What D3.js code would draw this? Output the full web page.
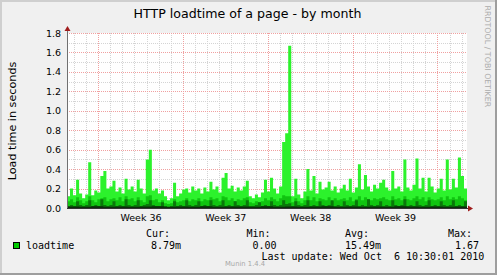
<!DOCTYPE html>
<html>
<head>
<meta charset="utf-8">
<script src="https://cdn.jsdelivr.net/npm/d3@7/dist/d3.min.js"></script>
<style>
    body { margin: 0; background: #f0f0f0; }
    svg text { font-family: "DejaVu Sans", sans-serif; }
    svg text.mono { font-family: "DejaVu Sans Mono", monospace; white-space: pre; }
</style>
</head>
<body>
<div id="chart"></div>
<script>
// 6-hourly samples, Sep 3 10:30 -> Oct 6 10:30 2010 (33 days)
var loadMax = [
    0.12,0.20,0.13,0.29,0.15,0.10,0.14,0.47,0.13,0.18,0.16,0.33,0.38,0.20,0.22,0.28,
    0.17,0.21,0.15,0.30,0.19,0.22,0.17,0.29,0.20,0.15,0.50,0.60,0.18,0.20,0.15,0.18,
    0.12,0.08,0.10,0.26,0.12,0.15,0.19,0.20,0.16,0.22,0.18,0.20,0.15,0.21,0.17,0.27,
    0.19,0.22,0.16,0.31,0.36,0.20,0.23,0.17,0.21,0.18,0.22,0.28,0.12,0.10,0.14,0.11,
    0.16,0.29,0.17,0.31,0.20,0.15,0.22,0.68,0.77,1.67,0.12,0.30,0.14,0.10,0.17,0.40,
    0.18,0.33,0.15,0.27,0.19,0.21,0.27,0.18,0.22,0.16,0.20,0.24,0.18,0.30,0.16,0.21,
    0.45,0.19,0.34,0.22,0.17,0.24,0.20,0.26,0.29,0.21,0.18,0.38,0.20,0.22,0.17,0.50,
    0.21,0.18,0.24,0.51,0.20,0.31,0.17,0.31,0.22,0.16,0.20,0.30,0.18,0.50,0.19,0.30,
    0.21,0.52,0.33,0.20
];
var loadAvg = [
    0.07,0.09,0.06,0.11,0.08,0.05,0.07,0.12,0.08,0.06,0.09,0.10,0.11,0.07,0.09,0.10,
    0.08,0.11,0.07,0.12,0.09,0.10,0.07,0.11,0.08,0.06,0.12,0.13,0.08,0.09,0.06,0.08,
    0.05,0.04,0.05,0.09,0.06,0.07,0.08,0.10,0.07,0.09,0.08,0.10,0.07,0.09,0.08,0.11,
    0.09,0.10,0.07,0.12,0.11,0.08,0.10,0.07,0.09,0.08,0.10,0.11,0.06,0.05,0.07,0.06,
    0.07,0.10,0.08,0.11,0.09,0.07,0.10,0.13,0.12,0.12,0.06,0.10,0.07,0.05,0.08,0.12,
    0.08,0.11,0.07,0.10,0.09,0.08,0.11,0.07,0.10,0.08,0.09,0.10,0.08,0.11,0.07,0.09,
    0.12,0.08,0.11,0.09,0.08,0.10,0.09,0.10,0.11,0.09,0.08,0.12,0.09,0.10,0.08,0.12,
    0.09,0.08,0.10,0.12,0.09,0.11,0.07,0.11,0.09,0.08,0.09,0.11,0.08,0.12,0.09,0.11,
    0.09,0.12,0.10,0.08
];
var loadLow = [
    0.02,0.03,0.02,0.07,0.03,0.02,0.03,0.08,0.02,0.03,0.02,0.09,0.03,0.02,0.03,0.07,
    0.02,0.03,0.02,0.09,0.03,0.02,0.03,0.08,0.02,0.03,0.04,0.08,0.03,0.02,0.02,0.06,
    0.02,0.01,0.02,0.07,0.02,0.03,0.02,0.08,0.03,0.02,0.03,0.07,0.02,0.03,0.02,0.08,
    0.03,0.02,0.03,0.08,0.02,0.03,0.02,0.07,0.03,0.02,0.03,0.08,0.02,0.02,0.03,0.06,
    0.02,0.03,0.02,0.07,0.03,0.02,0.03,0.08,0.04,0.05,0.02,0.07,0.03,0.02,0.03,0.08,
    0.02,0.03,0.02,0.07,0.03,0.02,0.03,0.08,0.02,0.03,0.02,0.07,0.03,0.02,0.03,0.08,
    0.02,0.03,0.02,0.09,0.03,0.02,0.03,0.07,0.02,0.03,0.02,0.08,0.03,0.02,0.03,0.09,
    0.02,0.03,0.02,0.07,0.03,0.02,0.03,0.08,0.02,0.03,0.02,0.07,0.03,0.02,0.03,0.08,
    0.02,0.03,0.02,0.07
];
// daily minimum
var loadMin = [
    0.015,0.012,0.018,0.014,0.016,0.012,0.015,0.017,0.013,0.016,0.014,
    0.018,0.012,0.015,0.016,0.013,0.017,0.014,0.015,0.012,0.016,0.018,
    0.013,0.015,0.014,0.016,0.012,0.017,0.015,0.013,0.016,0.014,0.015
];

var yTicks = [0.0, 0.2, 0.4, 0.6, 0.8, 1.0, 1.2, 1.4, 1.6, 1.8];
var weekStarts = ["2010-09-06", "2010-09-13", "2010-09-20", "2010-09-27", "2010-10-04"];
var weekLabels = ["Week 36", "Week 37", "Week 38", "Week 39"];

var legendHead = ["Cur:", "Min:", "Avg:", "Max:"];
var legendVals = ["8.79m", "0.00", "15.49m", "1.67"];

(function () {
    var W = 497, H = 275,
        margin = { top: 33, left: 67 },
        width = 400, height = 175;

    var start = new Date(Date.UTC(2010, 8, 3, 10, 30, 1)),
        end = new Date(Date.UTC(2010, 9, 6, 10, 30, 1));

    var svg = d3.select("#chart")
        .append("svg")
        .attr("width", W)
        .attr("height", H);

    // background + shaded frame
    svg.append("rect").attr("width", W).attr("height", H).attr("fill", "#f0f0f0");
    svg.append("rect").attr("width", W).attr("height", 2).attr("fill", "#cfcfcf");
    svg.append("rect").attr("width", 2).attr("height", H).attr("fill", "#cfcfcf");
    svg.append("rect").attr("x", W - 2).attr("width", 2).attr("height", H).attr("fill", "#9e9e9e");
    svg.append("rect").attr("y", H - 2).attr("width", W).attr("height", 2).attr("fill", "#9e9e9e");

    var x = d3.scaleUtc().domain([start, end]).range([0, width]);
    var y = d3.scaleLinear().domain([0, 1.8]).range([height, 0]);

    var g = svg.append("g")
        .attr("transform", "translate(" + margin.left + "," + margin.top + ")");

    g.append("rect").attr("width", width).attr("height", height).attr("fill", "#ffffff");

    // grid
    var weeks = weekStarts.map(function (s) { return new Date(s + "T00:00:00Z"); });
    var days = d3.utcDay.range(d3.utcDay.ceil(start), end)
        .filter(function (d) { return d.getUTCDay() != 1; });
    var yMinor = y.ticks(18).filter(function (v) { return Math.round(v * 10) % 2 == 1; });

    var grid = g.append("g").attr("shape-rendering", "crispEdges")
        .attr("stroke-dasharray", "1,1").attr("fill", "none");

    grid.selectAll(".hminor").data(yMinor).enter().append("line")
        .attr("x1", 0).attr("x2", width)
        .attr("y1", function (d) { return Math.round(y(d)) + 0.5; })
        .attr("y2", function (d) { return Math.round(y(d)) + 0.5; })
        .attr("stroke", "#d4d4d4");
    grid.selectAll(".vminor").data(days).enter().append("line")
        .attr("x1", function (d) { return Math.round(x(d)) + 0.5; })
        .attr("x2", function (d) { return Math.round(x(d)) + 0.5; })
        .attr("y1", 0).attr("y2", height)
        .attr("stroke", "#d4d4d4");
    grid.selectAll(".hmajor").data(yTicks.slice(1)).enter().append("line")
        .attr("x1", 0).attr("x2", width)
        .attr("y1", function (d) { return Math.round(y(d)) + 0.5; })
        .attr("y2", function (d) { return Math.round(y(d)) + 0.5; })
        .attr("stroke", "#f0a0a0");
    grid.selectAll(".vmajor").data(weeks).enter().append("line")
        .attr("x1", function (d) { return Math.round(x(d)) + 0.5; })
        .attr("x2", function (d) { return Math.round(x(d)) + 0.5; })
        .attr("y1", 0).attr("y2", height)
        .attr("stroke", "#f0a0a0");

    // stepped areas
    function points(values) {
        var step = (end - start) / values.length;
        var pts = values.map(function (v, i) {
            return { t: new Date(+start + i * step), v: v };
        });
        pts.push({ t: end, v: values[values.length - 1] });
        return pts;
    }
    var area = d3.area()
        .curve(d3.curveStepAfter)
        .x(function (d) { return x(d.t); })
        .y0(y(0))
        .y1(function (d) { return y(d.v); });

    [[loadMax, "#2cf22c"], [loadAvg, "#10c410"], [loadLow, "#0a780a"], [loadMin, "#0a2e0a"]]
        .forEach(function (s) {
            g.append("path")
                .datum(points(s[0]))
                .attr("d", area)
                .attr("fill", s[1]);
        });

    // axes lines + arrows
    g.append("line").attr("x1", 0.5).attr("x2", 0.5).attr("y1", height).attr("y2", -3)
        .attr("stroke", "#707070").attr("shape-rendering", "crispEdges");
    g.append("line").attr("x1", 0).attr("x2", width + 2).attr("y1", height + 0.5).attr("y2", height + 0.5)
        .attr("stroke", "#333").attr("shape-rendering", "crispEdges");
    g.append("path").attr("d", "M0.5,-7L-2.5,-2L3.5,-2Z").attr("fill", "#a01c1c");
    g.append("path").attr("d", "M" + (width + 6) + "," + (height + 0.5) + "L" + (width + 1) + "," + (height - 2.5) + "L" + (width + 1) + "," + (height + 3.5) + "Z")
        .attr("fill", "#a01c1c");

    // y labels
    var yAxis = g.append("g")
        .call(d3.axisLeft(y).tickValues(yTicks).tickSize(0).tickPadding(6)
            .tickFormat(function (d) { return d.toFixed(1); }));
    yAxis.select(".domain").remove();
    yAxis.selectAll("text").attr("font-size", "9.5px").attr("fill", "#000")
        .attr("font-family", "DejaVu Sans");

    // week labels, centred in each week
    var mids = weekLabels.map(function (l, i) {
        return new Date((+weeks[i] + +weeks[i + 1]) / 2);
    });
    var xAxis = g.append("g")
        .attr("transform", "translate(0," + height + ")")
        .call(d3.axisBottom(x).tickValues(mids).tickSize(0).tickPadding(6.5)
            .tickFormat(function (d, i) { return weekLabels[i]; }));
    xAxis.select(".domain").remove();
    xAxis.selectAll("text").attr("font-size", "9.5px").attr("fill", "#000")
        .attr("font-family", "DejaVu Sans");

    // title and side texts
    svg.append("text").attr("x", 247.5).attr("y", 18.3)
        .attr("text-anchor", "middle").attr("font-size", "12.6px")
        .text("HTTP loadtime of a page - by month");
    svg.append("text").attr("transform", "translate(15.5,121) rotate(-90)")
        .attr("text-anchor", "middle").attr("font-size", "11.2px")
        .text("Load time in seconds");
    svg.append("text").attr("transform", "translate(484.5,5.5) rotate(90)")
        .attr("font-size", "7.9px").attr("fill", "#acacac")
        .text("RRDTOOL / TOBI OETIKER");

    // legend
    svg.append("rect").attr("x", 13.5).attr("y", 242.5).attr("width", 6).attr("height", 6)
        .attr("fill", "#00cc00").attr("stroke", "#000");
    svg.append("text").attr("class", "mono").attr("x", 26).attr("y", 248.5)
        .attr("font-size", "10px").text("loadtime");

    var headX = [146, 246.5, 345, 448],
        valX = [151, 252.5, 345, 455];
    svg.selectAll(".lhead").data(legendHead).enter().append("text")
        .attr("class", "mono").attr("font-size", "10px")
        .attr("x", function (d, i) { return headX[i]; }).attr("y", 236.5)
        .text(function (d) { return d; });
    svg.selectAll(".lval").data(legendVals).enter().append("text")
        .attr("class", "mono").attr("font-size", "10px")
        .attr("x", function (d, i) { return valX[i]; }).attr("y", 248.5)
        .text(function (d) { return d; });

    svg.append("text").attr("class", "mono").attr("x", 261.5).attr("y", 260)
        .attr("font-size", "10px").text("Last update: Wed Oct  6 10:30:01 2010");
    svg.append("text").attr("x", 225).attr("y", 266)
        .attr("font-size", "6.8px").attr("fill", "#a8a8a8").text("Munin 1.4.4");
})();
</script>
</body>
</html>
